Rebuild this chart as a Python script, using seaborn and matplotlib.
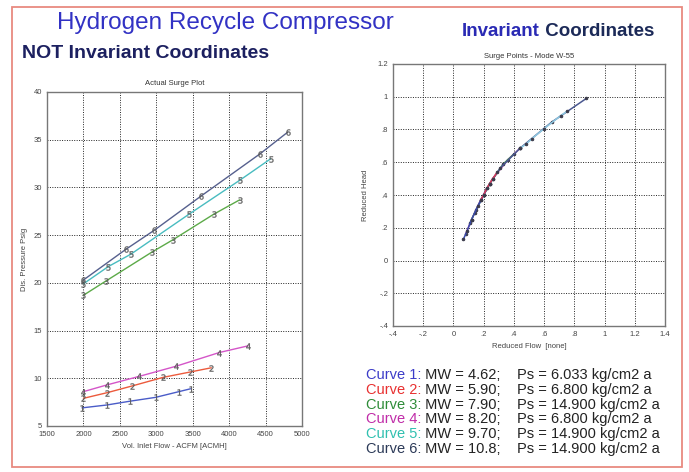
import numpy as np
import pandas as pd
import seaborn as sns
import matplotlib.pyplot as plt
from matplotlib.patches import Rectangle
from matplotlib.ticker import FuncFormatter

# --- Données ---
curves = ["1", "2", "3", "4", "5", "6"]
mw = ["4.62", "5.90", "7.90", "8.20", "9.70", "10.8"]
ps = ["6.033", "6.800", "14.900", "6.800", "14.900", "14.900"]

# Courbes de pompage réelles (débit ACMH, pression psig)
flow = {
    "1": [1980, 2320, 2640, 2990, 3310, 3470],
    "2": [2000, 2330, 2670, 3095, 3460, 3755],
    "3": [2000, 2310, 2935, 3225, 3790, 4145],
    "4": [2000, 2320, 2765, 3265, 3865, 4260],
    "5": [2000, 2340, 2650, 3450, 4155, 4570],
    "6": [2000, 2580, 2970, 3615, 4420, 4805],
}
press = {
    "1": [6.9, 7.2, 7.6, 8.0, 8.6, 8.9],
    "2": [7.9, 8.5, 9.2, 10.1, 10.65, 11.1],
    "3": [18.7, 20.2, 23.2, 24.5, 27.2, 28.7],
    "4": [8.6, 9.3, 10.2, 11.25, 12.7, 13.4],
    "5": [19.9, 21.7, 23.0, 27.2, 30.8, 33.0],
    "6": [20.3, 23.5, 25.5, 29.1, 33.5, 35.8],
}

# Coordonnées invariantes (débit réduit, hauteur réduite)
red_flow = {
    "1": [0.066, 0.09, 0.12, 0.16, 0.20, 0.22],
    "2": [0.18, 0.20, 0.22, 0.24, 0.26, 0.29],
    "3": [0.11, 0.14, 0.20, 0.24, 0.33, 0.40],
    "4": [0.08, 0.12, 0.18, 0.26, 0.36, 0.44],
    "5": [0.44, 0.48, 0.52, 0.60, 0.71, 0.75],
    "6": [0.15, 0.24, 0.31, 0.44, 0.65, 0.88],
}
red_head = {
    "1": [0.13, 0.18, 0.25, 0.33, 0.40, 0.44],
    "2": [0.37, 0.40, 0.44, 0.47, 0.50, 0.54],
    "3": [0.23, 0.29, 0.40, 0.47, 0.59, 0.65],
    "4": [0.16, 0.25, 0.37, 0.50, 0.615, 0.685],
    "5": [0.685, 0.71, 0.745, 0.805, 0.885, 0.91],
    "6": [0.31, 0.47, 0.565, 0.685, 0.845, 0.99],
}

line_colors = {"1": "#4a5cc8", "2": "#ec5a3c", "3": "#5caa48", "4": "#d455c8",
               "5": "#48bcc0", "6": "#56608e"}
text_colors = ["#3c3cc8", "#e83030", "#2e8c38", "#c02ca8", "#30c0b0", "#2c3a58"]
right_colors = {"1": "#3a4aa8", "2": "#d83a5a", "3": "#4a8a5a", "4": "#b04aa8",
                "5": "#8ec8e0", "6": "#4a5890"}

rows = []
rows_r = []
for c in curves:
    for x, y in zip(flow[c], press[c]):
        rows.append({"Flow": x, "Pressure": y, "Curve": c})
    for x, y in zip(red_flow[c], red_head[c]):
        rows_r.append({"Flow": x, "Head": y, "Curve": c})
df = pd.DataFrame(rows)
df_r = pd.DataFrame(rows_r)

sns.set_style("white")
plt.rcParams["font.family"] = ["Liberation Sans", "DejaVu Sans"]

W, H = 689, 472
fig = plt.figure(figsize=(W / 100, H / 100), dpi=100)

def fx(px):
    return px / W

def fy(py):
    return 1 - py / H

# cadre rouge de la diapo
fig.patches.append(Rectangle((fx(12), fy(467)), fx(682) - fx(12), fy(7) - fy(467),
                             transform=fig.transFigure, fill=False, ec="#e88a80", lw=1.3))

# --- Graphique de gauche ---
ax = fig.add_axes([fx(47), fy(426), fx(302) - fx(47), fy(92) - fy(426)])
sns.lineplot(data=df, x="Flow", y="Pressure", hue="Curve", style="Curve",
             palette=line_colors, markers={c: f"${c}$" for c in curves}, dashes=False,
             sort=False, estimator=None, legend=False, ax=ax, lw=1.0,
             markersize=4.5, markerfacecolor="#5a5a5a", markeredgecolor="#5a5a5a",
             markeredgewidth=0.2)
ax.set_xlim(1500, 5000)
ax.set_ylim(5, 40)
ax.set_xticks(np.arange(1500, 5001, 500))
ax.set_yticks(np.arange(5, 41, 5))
ax.set_title("Actual Surge Plot", fontsize=5.5, color="#333333", pad=5)
ax.set_xlabel("Vol. Inlet Flow - ACFM [ACMH]", fontsize=5.5, color="#444444", labelpad=4)
ax.set_ylabel("Dis. Pressure Psig", fontsize=5.5, color="#444444", labelpad=4)

# --- Graphique de droite ---
ax2 = fig.add_axes([fx(393), fy(326), fx(665) - fx(393), fy(64) - fy(326)])
for c in ["4", "3", "6", "1", "2", "5"]:
    sns.lineplot(data=df_r[df_r["Curve"] == c], x="Flow", y="Head", color=right_colors[c],
                 sort=False, estimator=None, ax=ax2, lw=1.1, marker="o", markersize=1.8,
                 markerfacecolor="#3a3a4a", markeredgecolor="#3a3a4a", legend=False)
ax2.set_xlim(-0.4, 1.4)
ax2.set_ylim(-0.4, 1.2)
ax2.set_xticks(np.arange(-0.4, 1.41, 0.2))
ax2.set_yticks(np.arange(-0.4, 1.21, 0.2))

def matlab_fmt(v, pos):
    s = f"{v:.1f}".rstrip("0").rstrip(".")
    if s in ("-0", ""):
        s = "0"
    return s.replace("0.", ".")

ax2.xaxis.set_major_formatter(FuncFormatter(matlab_fmt))
ax2.yaxis.set_major_formatter(FuncFormatter(matlab_fmt))
ax2.set_title("Surge Points - Mode W-55", fontsize=5.5, color="#333333", pad=4)
ax2.set_xlabel("Reduced Flow  [none]", fontsize=5.5, color="#444444", labelpad=4)
ax2.set_ylabel("Reduced Head", fontsize=5.5, color="#444444", labelpad=6)

for a in (ax, ax2):
    a.grid(True, ls=(0, (1, 1.5)), color="#222222", lw=0.7)
    a.tick_params(labelsize=5.5, labelcolor="#444444", direction="in", length=2)
    for sp in a.spines.values():
        sp.set_color("#777777")
        sp.set_linewidth(1.0)

# --- Textes de la diapo ---
fig.text(fx(57), fy(23), "Hydrogen Recycle Compressor", fontsize=17.5, color="#3232c4",
         va="center", ha="left")
fig.text(fx(22), fy(53), "NOT Invariant Coordinates", fontsize=14, fontweight="bold",
         color="#1c2060", va="center", ha="left")
t1 = fig.text(fx(462), fy(32), "Invariant", fontsize=13.5, fontweight="bold",
              color="#2a2ab4", va="center", ha="left")
ax2.annotate(" Coordinates", xy=(1, 0.5), xycoords=t1, va="center", ha="left",
             fontsize=13.5, fontweight="bold", color="#1c2a58")

for i, c in enumerate(curves):
    yy = fy(375 + i * 14.8)
    tc = fig.text(fx(366), yy, f"Curve {c}:", fontsize=10.5, color=text_colors[i],
                  va="center", ha="left")
    ax2.annotate(f" MW = {mw[i]};", xy=(1, 0.5), xycoords=tc, va="center", ha="left",
                 fontsize=10.5, color="#222222")
    fig.text(fx(517), yy, f"Ps = {ps[i]} kg/cm2 a", fontsize=10.5, color="#222222",
             va="center", ha="left")

plt.savefig("out.png", dpi=100)
